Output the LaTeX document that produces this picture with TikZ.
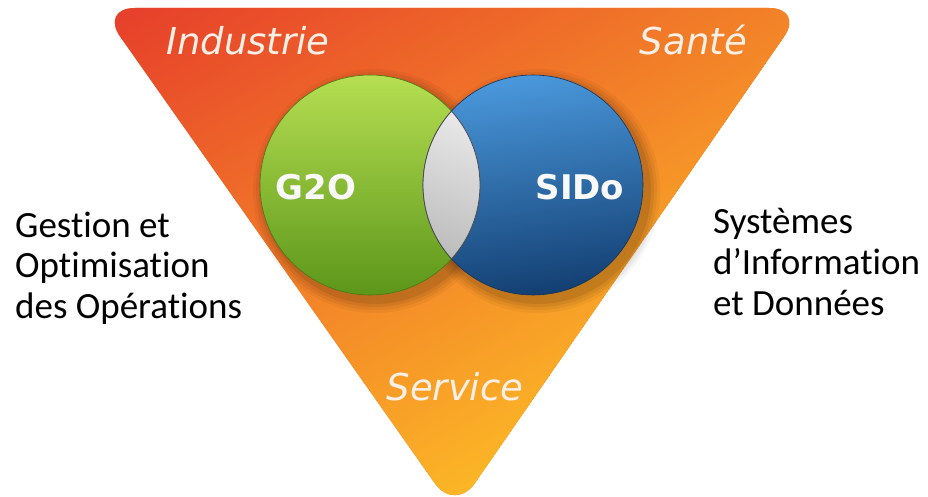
\documentclass[tikz,border=0pt]{standalone}
\usepackage{fontspec}
\setmainfont{Carlito}[Ligatures={NoCommon,NoContextual}]
\newfontfamily\dejavu{DejaVu Sans}
\definecolor{triRed}{HTML}{E63B2B}
\definecolor{triOrange}{HTML}{F1762A}
\definecolor{triYellow}{HTML}{FCB826}
\definecolor{gTop}{HTML}{B6DF52}
\definecolor{gMid}{HTML}{8CC02C}
\definecolor{gBot}{HTML}{5C961A}
\definecolor{bTop}{HTML}{4A98DC}
\definecolor{bMid}{HTML}{1A5699}
\definecolor{bBot}{HTML}{133F72}
\definecolor{labelWhite}{HTML}{FCEFE6}
\tikzset{
  sector/.style={font=\dejavu\itshape\fontsize{37}{44}\selectfont, text=labelWhite, inner sep=0pt},
  circlabel/.style={font=\dejavu\bfseries\fontsize{34}{40}\selectfont, text=white!95!gray, inner sep=0pt},
  sidetext/.style={font=\fontsize{37}{40}\selectfont, text=black, inner sep=0pt, anchor=base west},
  disc/.style={circle, minimum size=220pt, inner sep=0pt},
}
\begin{document}
\begin{tikzpicture}[x=1pt,y=-1pt]
\useasboundingbox (0,0) rectangle (928,497);
% triangle with a linear gradient from the top-left corner to the apex
\begin{scope}
  \clip[rounded corners=35pt] (100,8) -- (804,8) -- (455,512) -- cycle;
  \fill[triOrange] (100,8) -- (804,8) -- (455,512) -- cycle;
  \shade[transform canvas={rotate around={30:(406,180)}},
         top color=triRed, middle color=triOrange, bottom color=triYellow]
    (-294,-130) rectangle (1106,490);
\end{scope}
% shadows
\foreach \k/\o in {12/0.04,9/0.05,6/0.06,3/0.08}{
  \fill[black, opacity=\o] (375,191) circle ({110pt+\k pt});
  \fill[black, opacity=\o] (538,191) circle ({110pt+\k pt});
}
% circles
\node[disc, top color=gTop, middle color=gMid, bottom color=gBot, draw=gBot!80!black, line width=0.6pt] (G) at (370,185) {};
\node[disc, top color=bTop, middle color=bMid, bottom color=bBot, shading angle=8, draw=bBot!80!black, line width=0.6pt] (B) at (533,185) {};
% lens
\begin{scope}
  \clip (370,185) circle (110pt);
  \shade[left color=white, right color=black!28, shading angle=-20] (533,185) circle (110pt);
  \draw[black!70, line width=0.8pt] (533,185) circle (110pt);
\end{scope}
\begin{scope}
  \clip (533,185) circle (110pt);
  \draw[black!70, line width=0.8pt] (370,185) circle (110pt);
\end{scope}
% labels
\node[circlabel, anchor=base] (g2o) at (316,200) {G2O};
\node[circlabel, anchor=base] (sido) at (580,200) {SIDo};
\node[sector, anchor=base west] (ind) at (166,55) {Industrie};
\node[sector, anchor=base east] (san) at (747,55) {Santé};
\node[sector, anchor=base] (ser) at (455,400) {Service};
% side texts
\node[sidetext] (l1) at (15,237) {Gestion et};
\node[sidetext] (l2) at (15,277) {Optimisation};
\node[sidetext] (l3) at (15,318) {des Opérations};
\node[sidetext] (r1) at (713,233) {Systèmes};
\node[sidetext] (r2) at (713,274) {d’Information};
\node[sidetext] (r3) at (713,315) {et Données};
\end{tikzpicture}
\end{document}
